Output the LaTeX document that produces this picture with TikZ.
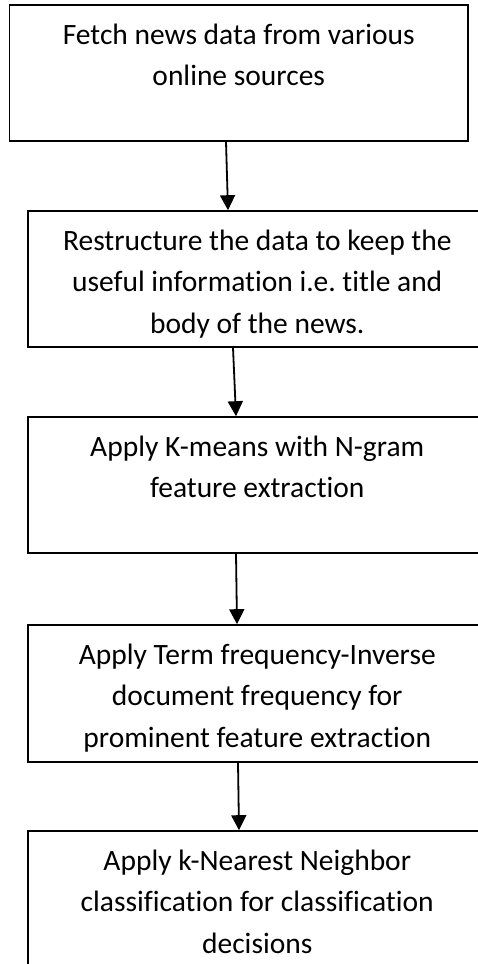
\documentclass[tikz,border=0pt]{standalone}
\usepackage{fontspec}
\setmainfont{Carlito}[Ligatures=NoCommon]
\usetikzlibrary{arrows.meta}
\frenchspacing
\begin{document}
\begin{tikzpicture}[x=1pt,y=-1pt,
  stepbox/.style={draw=black,line width=1.6pt,rectangle,minimum width=458.5pt,minimum height=136pt,inner sep=0pt},
  steptext/.style={anchor=north,inner sep=0pt,align=center,font=\fontsize{29.5}{41.5}\selectfont},
  flow/.style={line width=1.8pt,-{Triangle[width=15pt,length=15pt]}}]
  \useasboundingbox (0,0) rectangle (478,964);
  \clip (0,0) rectangle (478,964);
  \fill[white] (0,0) rectangle (478,964);

  % process boxes
  \node[stepbox] (b1) at (238.75,73) {};
  \node[stepbox] (b2) at (257.25,279) {};
  \node[stepbox] (b3) at (257.25,485) {};
  \node[stepbox,minimum height=137pt] (b4) at (257.25,693.5) {};
  \node[stepbox,minimum height=137pt] (b5) at (257.25,899.5) {};

  % box texts
  \node[steptext] (t1) at ([yshift=-19.5pt]b1.north) {Fetch news data from various\\online sources};
  \node[steptext] (t2) at ([yshift=-19.5pt]b2.north) {Restructure the data to keep the\\useful information i.e. title and\\body of the news.};
  \node[steptext] (t3) at ([yshift=-19.5pt]b3.north) {Apply K-means with N-gram\\feature extraction};
  \node[steptext] (t4) at ([yshift=-19.5pt]b4.north) {Apply Term frequency-Inverse\\document frequency for\\prominent feature extraction};
  \node[steptext] (t5) at ([yshift=-19.5pt]b5.north) {Apply k-Nearest Neighbor\\classification for classification\\decisions};

  % connector end points on the box edges
  \coordinate (a1s) at ([xshift=-12.75pt]b1.south);
  \coordinate (a1e) at ([xshift=-29.25pt]b2.north);
  \coordinate (a2s) at ([xshift=-24.25pt]b2.south);
  \coordinate (a2e) at ([xshift=-21.25pt]b3.north);
  \coordinate (a3s) at ([xshift=-21.25pt]b3.south);
  \coordinate (a3e) at ([xshift=-20.25pt]b4.north);
  \coordinate (a4s) at ([xshift=-19.25pt]b4.south);
  \coordinate (a4e) at ([xshift=-18.25pt]b5.north);

  \draw[flow] (a1s) -- (a1e);
  \draw[flow] (a2s) -- (a2e);
  \draw[flow] (a3s) -- (a3e);
  \draw[flow] (a4s) -- (a4e);
\end{tikzpicture}
\end{document}
